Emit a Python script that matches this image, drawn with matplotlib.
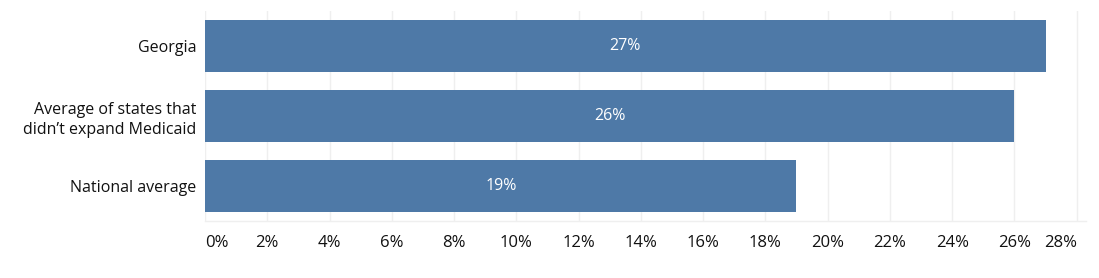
import matplotlib
matplotlib.use("Agg")
import matplotlib.pyplot as plt

## Data
categories = ["Georgia", "Average of states that\ndidn\u2019t expand Medicaid", "National average"]
values = [27, 26, 19]
tick_values = list(range(0, 29, 2))
tick_labels = [f"{v}%" for v in tick_values]

bar_color = "#4e79a7"
grid_color = "#efefef"
text_color = "#111111"

plt.rcParams["font.family"] = ["Open Sans", "DejaVu Sans"]

fig = plt.figure(figsize=(10.99, 2.78), dpi=100)
ax = fig.add_axes([205 / 1099, 1 - 221 / 278, 881 / 1099, 210 / 278])

y_pos = list(range(len(categories)))
ax.barh(y_pos, values, height=0.757, color=bar_color, zorder=2)

## Labels inside bars
for y, v in zip(y_pos, values):
    ax.text(v / 2, y, f"{v}%", ha="center", va="center", color="white", fontsize=11.5, zorder=3)

ax.set_ylim(len(categories) - 0.5, -0.5)
ax.set_xlim(0, 28.3)
ax.set_yticks(y_pos)
ax.set_yticklabels(categories, fontsize=11.5, color=text_color, linespacing=1.35)
ax.set_xticks(tick_values)
ax.set_xticklabels(tick_labels, fontsize=12, color=text_color)
ax.get_xticklabels()[0].set_ha("left")
ax.get_xticklabels()[-1].set_ha("right")

ax.tick_params(axis="y", length=0, pad=6)
ax.tick_params(axis="x", length=0, pad=10)
ax.xaxis.grid(True, color=grid_color, linewidth=1, zorder=0)
ax.set_axisbelow(True)

for side in ["top", "right", "left"]:
    ax.spines[side].set_visible(False)
ax.spines["bottom"].set_color(grid_color)
ax.spines["bottom"].set_linewidth(1)

fig.savefig("out.png", dpi=100)
